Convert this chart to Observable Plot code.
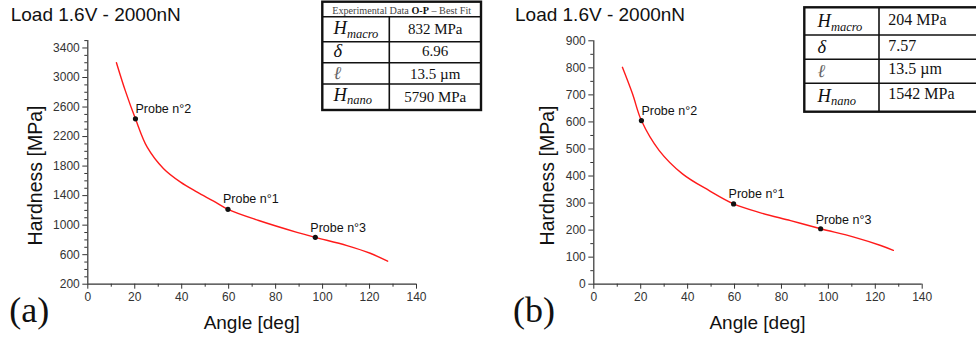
<!DOCTYPE html>
<html><head><meta charset="utf-8">
<script src="https://cdn.jsdelivr.net/npm/d3@7"></script>
<script src="https://cdn.jsdelivr.net/npm/@observablehq/plot@0.6"></script>
<style>
body{margin:0;background:#fff;}
#fig{position:relative;width:976px;height:344px;overflow:hidden;background:#fff;}
#fig svg{position:absolute;top:0;}
</style></head>
<body><div id="fig"></div>
<script>
// ---------- data ----------
const titles = ["Load 1.6V - 2000nN", "Load 1.6V - 2000nN"];
const panelTags = ["(a)", "(b)"];
const xLabel = "Angle [deg]";
const yLabel = "Hardness [MPa]";

const xTicks = [0, 20, 40, 60, 80, 100, 120, 140];
const xMinorTicks = [10, 30, 50, 70, 90, 110, 130];

const yTicksA = [200, 600, 1000, 1400, 1800, 2200, 2600, 3000, 3400];
const yMinorA = [300, 400, 500, 700, 800, 900, 1100, 1200, 1300, 1500, 1600, 1700, 1900, 2000, 2100, 2300, 2400, 2500, 2700, 2800, 2900, 3100, 3200, 3300, 3500];
const yTicksB = [0, 100, 200, 300, 400, 500, 600, 700, 800, 900];
const yMinorB = [50, 150, 250, 350, 450, 550, 650, 750, 850];

// fitted curve (a)
const curveAngleA = [12.2, 16.0, 20.3, 25.3, 32.3, 39.5, 46.6, 53.6, 59.7, 72.8, 89.1, 96.9, 110.4, 120.3, 127.7];
const curveHardA  = [3201, 2819, 2440, 2056, 1764, 1582, 1447, 1325, 1214, 1063, 903, 835, 723, 619, 511];
// fitted curve (b)
const curveAngleB = [12.2, 16.5, 20.3, 27.9, 37.8, 49.2, 59.6, 71.1, 83.9, 96.7, 110.9, 122.3, 127.7];
const curveHardB  = [802, 704, 605, 494, 408, 346, 297, 264, 235, 205, 174, 143, 125];

// probes
const probeNames = ["Probe n°2", "Probe n°1", "Probe n°3"];
const probeAngleA = [20.3, 59.7, 96.9];
const probeHardA  = [2440, 1214, 835];
const probeAngleB = [20.3, 59.6, 96.7];
const probeHardB  = [605, 297, 205];

// parameter tables
const tableHeaderA = ["Experimental Data ", "O-P", " – Best Fit"];
const paramBase = ["H", "δ", "ℓ", "H"];
const paramSub  = ["macro", "", "", "nano"];
const valuesA = ["832 MPa", "6.96", "13.5 µm", "5790 MPa"];
const valuesB = ["204 MPa", "7.57", "13.5 µm", "1542 MPa"];

// ---------- drawing ----------
const SANS = "'Liberation Sans', Arial, sans-serif";
const SERIF = "'Liberation Serif', 'Times New Roman', serif";
const fig = document.getElementById("fig");
const fmt = d3.format("d");

function panel(o) {
  const curve = o.ca.map((a, i) => ({angle: a, hard: o.ch[i]}));
  const probes = o.pa.map((a, i) => ({angle: a, hard: o.ph[i], name: probeNames[i], dx: i === 0 ? 0 : -5, dy: i === 2 ? -9 : -10}));
  const axisColor = "#333";
  const p = Plot.plot({
    width: 488, height: 344,
    marginLeft: o.ml, marginRight: o.mr, marginTop: o.mt, marginBottom: 60.3,
    x: {domain: [0, 140]},
    y: {domain: o.yd},
    style: {fontFamily: SANS, fontSize: "12px", color: axisColor, background: "transparent", overflow: "visible"},
    marks: [
      Plot.axisX({ticks: xMinorTicks, tickSize: 3, text: null, label: null, stroke: axisColor}),
      Plot.axisX({ticks: xTicks, tickSize: 5, tickPadding: 3, tickFormat: fmt, label: null, stroke: axisColor, fill: axisColor}),
      Plot.axisY({ticks: o.ym, tickSize: 3, text: null, label: null, stroke: axisColor}),
      Plot.axisY({ticks: o.yt, tickSize: 5, tickPadding: 3, tickFormat: fmt, label: null, stroke: axisColor, fill: axisColor}),
      Plot.ruleX([0], {y1: o.yd[0], y2: o.yd[1], stroke: axisColor, strokeWidth: 1.2}),
      Plot.ruleY([o.yd[0]], {x1: 0, x2: 140, stroke: axisColor, strokeWidth: 1.2}),
      Plot.line(curve, {x: "angle", y: "hard", stroke: "#ff1a1a", strokeWidth: 1.4, curve: "catmull-rom"}),
      Plot.dot(probes, {x: "angle", y: "hard", r: 2.6, fill: "#111", stroke: "none"}),
      ...probes.map(d => Plot.text([d], {x: "angle", y: "hard", text: "name", dx: d.dx, dy: d.dy, textAnchor: "start", fontSize: 12.5, fill: "#111"}))
    ]
  });
  p.style.left = o.left + "px";
  fig.appendChild(p);
}

panel({left: 0, ml: 87.3, mr: 72, mt: 40.1, yd: [200, 3500], yt: yTicksA, ym: yMinorA,
       ca: curveAngleA, ch: curveHardA, pa: probeAngleA, ph: probeHardA});
panel({left: 488, ml: 105.3, mr: 54.3, mt: 40.3, yd: [0, 900], yt: yTicksB, ym: yMinorB,
       ca: curveAngleB, ch: curveHardB, pa: probeAngleB, ph: probeHardB});

// overlay for titles, labels, tables
const ov = d3.select(fig).append("svg").attr("width", 976).attr("height", 344).style("left", "0px");

const panelsGeo = [
  {titleX: 10.7, tagX: 9.3, ylabX: 41.7, xlabX: 251.7},
  {titleX: 515, tagX: 513, ylabX: 554, xlabX: 757.5}
];
panelsGeo.forEach((g, i) => {
  ov.append("text").attr("x", g.titleX).attr("y", 20.7).attr("font-family", SANS).attr("font-size", 19).attr("fill", "#111").text(titles[i]);
  ov.append("text").attr("x", g.tagX).attr("y", 321.5).attr("font-family", SERIF).attr("font-size", 36).attr("fill", "#111").text(panelTags[i]);
  ov.append("text").attr("transform", `translate(${g.ylabX},175.5) rotate(-90)`).attr("text-anchor", "middle")
    .attr("font-family", SANS).attr("font-size", 19.5).attr("fill", "#111").text(yLabel);
  ov.append("text").attr("x", g.xlabX).attr("y", 328.5).attr("text-anchor", "middle")
    .attr("font-family", SANS).attr("font-size", 19).attr("fill", "#111").text(xLabel);
});

function table(t) {
  const g = ov.append("g");
  const rows = t.rows;
  rows.slice(1, -1).forEach(y => g.append("line").attr("x1", t.x0).attr("x2", t.x1).attr("y1", y).attr("y2", y).attr("stroke", "#111").attr("stroke-width", 1.6));
  g.append("line").attr("x1", t.cx).attr("x2", t.cx).attr("y1", rows[t.firstDataRow]).attr("y2", rows[rows.length - 1]).attr("stroke", "#111").attr("stroke-width", 1.6);
  g.append("rect").attr("x", t.x0).attr("y", rows[0]).attr("width", t.x1 - t.x0).attr("height", rows[rows.length - 1] - rows[0])
    .attr("fill", "none").attr("stroke", "#111").attr("stroke-width", 2.4);
  if (t.header) {
    const h = g.append("text").attr("x", (t.x0 + t.x1) / 2).attr("y", 14).attr("text-anchor", "middle")
      .attr("font-family", SERIF).attr("font-size", 10.2).attr("fill", "#444");
    t.header.forEach((s, k) => h.append("tspan").attr("font-weight", k === 1 ? "bold" : "normal").attr("fill", k === 1 ? "#111" : "#444").text(s));
  }
  paramBase.forEach((b, k) => {
    const txt = g.append("text").attr("x", t.symX).attr("y", t.symBase[k]).attr("font-family", SERIF).attr("font-style", "italic")
      .attr("font-size", 18.5).attr("fill", b === "ℓ" ? "#666" : "#111");
    txt.append("tspan").text(b);
    if (paramSub[k]) txt.append("tspan").attr("dy", 3.2).attr("font-size", 12.5).text(paramSub[k]);
    g.append("text").attr("x", t.valX).attr("y", t.valBase[k]).attr("text-anchor", t.valAnchor)
      .attr("font-family", SERIF).attr("font-size", t.valSize).attr("fill", "#111").text(t.values[k]);
  });
}

table({x0: 322.3, x1: 481, cx: 389.3, rows: [1.7, 16.7, 41.7, 62.7, 84, 110], firstDataRow: 1,
       header: tableHeaderA, symX: 333.5, symBase: [34.3, 56.7, 79, 101], valX: 435.2, valAnchor: "middle",
       valBase: [34.3, 55.7, 79, 101.5], valSize: 15, values: valuesA});
table({x0: 804.3, x1: 981, cx: 879, rows: [7.3, 35, 59.3, 83.3, 111.7], firstDataRow: 0,
       header: null, symX: 817.5, symBase: [27.3, 53.3, 76.7, 101.7], valX: 888.3, valAnchor: "start",
       valBase: [24.8, 51.2, 74.2, 99.2], valSize: 16, values: valuesB});
</script></body></html>
